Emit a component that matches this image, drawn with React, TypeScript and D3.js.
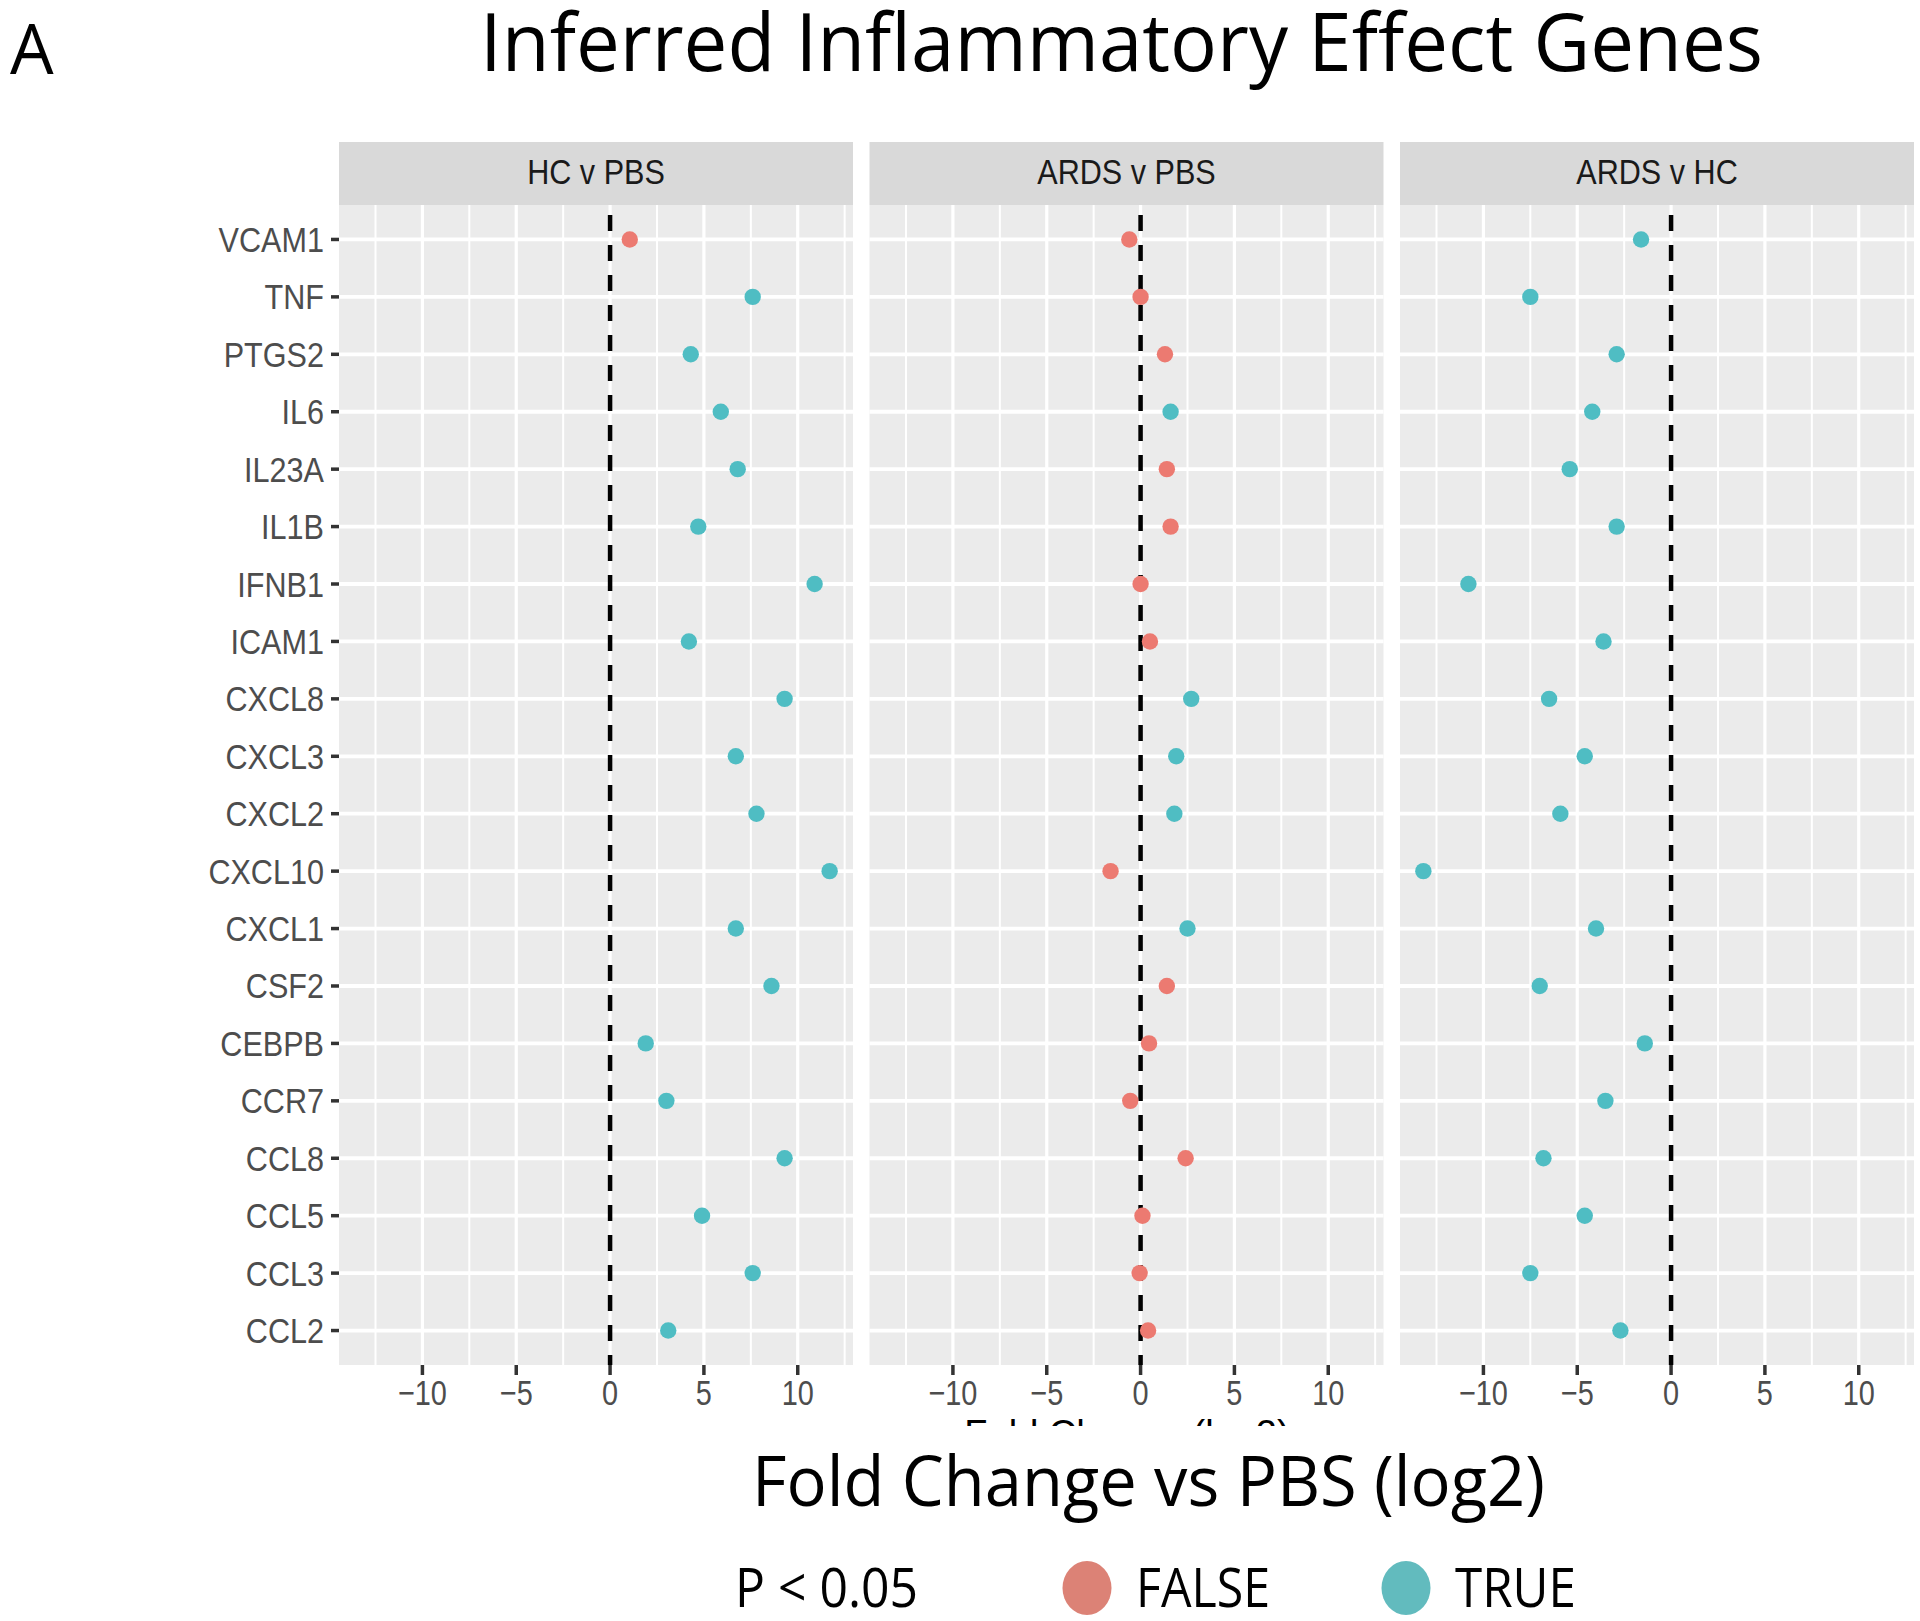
import React from "react";
import * as d3 from "d3";

const genes = ["VCAM1","TNF","PTGS2","IL6","IL23A","IL1B","IFNB1","ICAM1","CXCL8","CXCL3","CXCL2","CXCL10","CXCL1","CSF2","CEBPB","CCR7","CCL8","CCL5","CCL3","CCL2"];
const comparisons = ["HC v PBS", "ARDS v PBS", "ARDS v HC"];

const hcVsPbsFC = [1.05, 7.6, 4.3, 5.9, 6.8, 4.7, 10.9, 4.2, 9.3, 6.7, 7.8, 11.7, 6.7, 8.6, 1.9, 3.0, 9.3, 4.9, 7.6, 3.1];
const hcVsPbsSig = [false, true, true, true, true, true, true, true, true, true, true, true, true, true, true, true, true, true, true, true];

const ardsVsPbsFC = [-0.6, 0.0, 1.3, 1.6, 1.4, 1.6, 0.0, 0.5, 2.7, 1.9, 1.8, -1.6, 2.5, 1.4, 0.45, -0.55, 2.4, 0.1, -0.05, 0.4];
const ardsVsPbsSig = [false, false, false, true, false, false, false, false, true, true, true, false, true, false, false, false, false, false, false, false];

const ardsVsHcFC = [-1.6, -7.5, -2.9, -4.2, -5.4, -2.9, -10.8, -3.6, -6.5, -4.6, -5.9, -13.2, -4.0, -7.0, -1.4, -3.5, -6.8, -4.6, -7.5, -2.7];
const ardsVsHcSig = [true, true, true, true, true, true, true, true, true, true, true, true, true, true, true, true, true, true, true, true];

const majorTicks = [-10, -5, 0, 5, 10];
const minorTicks = [-12.5, -7.5, -2.5, 2.5, 7.5, 12.5];
const legendLevels = ["FALSE", "TRUE"];

const COL_FALSE = "#EC7A71";
const COL_TRUE = "#4FBDC3";
const LEG_FALSE = "#DC8276";
const LEG_TRUE = "#62BBBE";

function SText({ x, y, sx = 1, sy = 1, anchor = "start", size, fill = "#000", family = "Liberation Sans, Arial, sans-serif", children }: any) {
  return (
    <text
      transform={`translate(${x},${y}) scale(${sx},${sy})`}
      textAnchor={anchor}
      fontSize={size}
      fontFamily={family}
      fill={fill}
    >
      {children}
    </text>
  );
}

export default function App() {
  const panelW = 514;
  const panelLeft0 = 339;
  const panelStep = 530.5;
  const stripTop = 142;
  const panelTop = 205;
  const panelBottom = 1365;

  const series = [
    { fc: hcVsPbsFC, sig: hcVsPbsSig },
    { fc: ardsVsPbsFC, sig: ardsVsPbsSig },
    { fc: ardsVsHcFC, sig: ardsVsHcSig },
  ];

  const all = [...hcVsPbsFC, ...ardsVsPbsFC, ...ardsVsHcFC];
  const [mn, mx] = d3.extent(all) as [number, number];
  const pad = (mx - mn) * 0.05;
  const x = d3.scaleLinear().domain([mn - pad, mx + pad]).range([0, panelW]);
  const y = d3.scalePoint<string>().domain(genes).range([panelTop, panelBottom]).padding(0.6);

  const fmt = (v: number) => (v < 0 ? "\u2212" + Math.abs(v) : String(v));

  return (
    <svg width={1920} height={1621} style={{ position: "absolute", left: 0, top: 0, background: "#fff" }}>
      <defs>
        <clipPath id="hiddenTitle">
          <rect x={0} y={1419} width={1920} height={7} />
        </clipPath>
      </defs>
      <rect x={0} y={0} width={1920} height={1621} fill="#fff" />

      {/* Panel letter and title */}
      <text x={10} y={74} fontSize={69} fontFamily="Open Sans, sans-serif" fill="#000">A</text>
      <text x={480} y={71} fontSize={80} fontFamily="Open Sans, sans-serif" fill="#000" textLength={1283} lengthAdjust="spacingAndGlyphs">
        Inferred Inflammatory Effect Genes
      </text>

      {/* Y axis labels and ticks */}
      {genes.map((g) => (
        <g key={g}>
          <SText x={324} y={(y(g) as number) + 12.5} sx={0.9} sy={1.05} anchor="end" size={34} fill="#4D4D4D">{g}</SText>
          <line x1={331} x2={339} y1={y(g)} y2={y(g)} stroke="#333" strokeWidth={3.5} />
        </g>
      ))}

      {comparisons.map((c, pi) => {
        const left = panelLeft0 + pi * panelStep;
        const s = series[pi];
        return (
          <g key={c} transform={`translate(${left},0)`}>
            {/* strip */}
            <rect x={0} y={stripTop} width={panelW} height={panelTop - stripTop} fill="#D9D9D9" />
            <SText x={panelW / 2} y={184} sx={0.9} sy={1.05} anchor="middle" size={34} fill="#1A1A1A">{c}</SText>
            {/* panel */}
            <rect x={0} y={panelTop} width={panelW} height={panelBottom - panelTop} fill="#EBEBEB" />
            {minorTicks.map((t) => (
              <line key={"mi" + t} x1={x(t)} x2={x(t)} y1={panelTop} y2={panelBottom} stroke="#fff" strokeWidth={2} />
            ))}
            {majorTicks.map((t) => (
              <line key={"ma" + t} x1={x(t)} x2={x(t)} y1={panelTop} y2={panelBottom} stroke="#fff" strokeWidth={3.2} />
            ))}
            {genes.map((g) => (
              <line key={"h" + g} x1={0} x2={panelW} y1={y(g)} y2={y(g)} stroke="#fff" strokeWidth={3.8} />
            ))}
            {/* zero dashed line */}
            <line x1={x(0)} x2={x(0)} y1={panelTop} y2={panelBottom} stroke="#000" strokeWidth={4.5} strokeDasharray="16 14" strokeDashoffset={-10} />
            {/* points */}
            {genes.map((g, i) => (
              <circle key={"p" + g} cx={x(s.fc[i])} cy={y(g)} r={8.2} fill={s.sig[i] ? COL_TRUE : COL_FALSE} />
            ))}
            {/* x ticks */}
            {majorTicks.map((t) => (
              <g key={"xt" + t}>
                <line x1={x(t)} x2={x(t)} y1={panelBottom} y2={panelBottom + 10} stroke="#333" strokeWidth={3.5} />
                <SText x={x(t)} y={1405} sx={0.85} sy={1.05} anchor="middle" size={34} fill="#4D4D4D">{fmt(t)}</SText>
              </g>
            ))}
          </g>
        );
      })}

      {/* partially hidden axis title */}
      <g clipPath="url(#hiddenTitle)">
        <text x={1127} y={1447} textAnchor="middle" fontSize={38} fontFamily="Liberation Sans, Arial, sans-serif" fill="#000">Fold Change (log2)</text>
      </g>

      {/* big x title */}
      <text x={752} y={1506} fontSize={69} fontFamily="Open Sans, sans-serif" fill="#000" textLength={793} lengthAdjust="spacingAndGlyphs">
        Fold Change vs PBS (log2)
      </text>

      {/* legend */}
      <text x={735} y={1607} fontSize={55} fontFamily="Open Sans, sans-serif" fill="#000" textLength={183} lengthAdjust="spacingAndGlyphs">P &lt; 0.05</text>
      {legendLevels.map((lv, i) => {
        const cx = i === 0 ? 1087 : 1406;
        const tx = i === 0 ? 1136 : 1455;
        const tl = i === 0 ? 134 : 121;
        return (
          <g key={lv}>
            <ellipse cx={cx} cy={1588} rx={24.5} ry={27} fill={i === 0 ? LEG_FALSE : LEG_TRUE} />
            <text x={tx} y={1607} fontSize={55} fontFamily="Open Sans, sans-serif" fill="#000" textLength={tl} lengthAdjust="spacingAndGlyphs">{lv}</text>
          </g>
        );
      })}
    </svg>
  );
}
